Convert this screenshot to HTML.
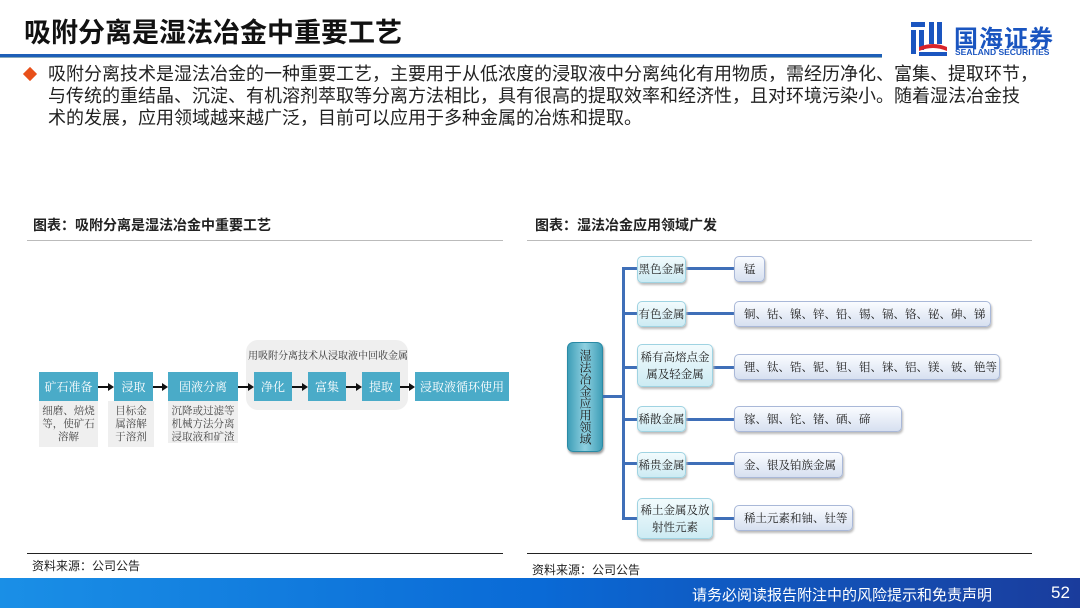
<!DOCTYPE html>
<html><head><meta charset="utf-8"><style>
*{margin:0;padding:0;box-sizing:border-box}
body{width:1080px;height:608px;position:relative;background:#fff;font-family:"Liberation Sans","Noto Sans CJK SC",sans-serif;overflow:hidden;color:#222}
.a{position:absolute}
.t{font-size:27px;font-weight:bold;left:24px;top:11px;color:#111;white-space:nowrap}
.p{left:48px;top:63px;width:1020px;font-size:18px;line-height:22px;color:#222;white-space:nowrap}
.fb{background:#4aabc8;color:#fff;font-family:"Noto Serif CJK SC",serif;font-size:12px;display:flex;align-items:center;justify-content:center;height:29px;top:372px}
.sb{background:#efefef;color:#444;font-family:"Noto Serif CJK SC",serif;font-size:10.5px;line-height:13px;text-align:center;padding-top:3px}
.ar{height:2px;background:#111}
.ar:after{content:"";position:absolute;right:-2px;top:-3px;border-left:6px solid #111;border-top:4px solid transparent;border-bottom:4px solid transparent}
.cat{background:linear-gradient(#f2fbfd,#cdebf3);border:1px solid #9fd3e2;border-radius:5px;font-family:"Noto Serif CJK SC",serif;font-size:11.5px;display:flex;align-items:center;justify-content:center;text-align:center;line-height:17px;box-shadow:1px 2px 2px #bbb;color:#222}
.it{background:linear-gradient(#fafcff,#d7e0f0);border:1px solid #a9b8d8;border-radius:5px;font-family:"Noto Serif CJK SC",serif;font-size:11.5px;display:flex;align-items:center;padding-left:9px;height:26px;box-shadow:1px 2px 2px #bbb;color:#222;white-space:nowrap}
.h{background:#3f6fb8;height:3px}
.v{background:#3f6fb8;width:3px}
</style></head><body>
<div class="a t">吸附分离是湿法冶金中重要工艺</div>
<div class="a" style="left:0;top:54px;width:882px;height:3px;background:#1d5fb8"></div>
<div class="a" style="left:0;top:57px;width:882px;height:1px;background:#8ab"></div>
<svg class="a" style="left:909px;top:20px" width="40" height="38" viewBox="0 0 40 38">
<rect x="2" y="2" width="14" height="5" fill="#1a55c0"/><rect x="2" y="10" width="5" height="24" fill="#1a55c0"/><rect x="10" y="10" width="5" height="20" fill="#1a55c0"/>
<rect x="20" y="2" width="5" height="22" fill="#1a55c0"/><rect x="28" y="2" width="5" height="22" fill="#1a55c0"/>
<path d="M10 27 Q24 21 38 27 L38 31 Q24 25 10 31Z" fill="#d8232a"/><rect x="10" y="32" width="28" height="4" fill="#1a55c0"/></svg>
<div class="a" style="left:954px;top:19px;font-size:24px;font-weight:bold;color:#1a55c0;letter-spacing:1px">国海证券</div>
<div class="a" style="left:955px;top:47px;font-size:8.5px;font-weight:bold;color:#1a55c0">SEALAND SECURITIES</div>
<div class="a" style="left:25px;top:69px;width:10px;height:10px;background:#e8501a;transform:rotate(45deg)"></div>
<div class="a p">吸附分离技术是湿法冶金的一种重要工艺，主要用于从低浓度的浸取液中分离纯化有用物质，需经历净化、富集、提取环节，<br>与传统的重结晶、沉淀、有机溶剂萃取等分离方法相比，具有很高的提取效率和经济性，且对环境污染小。随着湿法冶金技<br>术的发展，应用领域越来越广泛，目前可以应用于多种金属的冶炼和提取。</div>

<div class="a" style="left:33px;top:215px;font-size:14px;font-weight:bold;color:#222">图表：吸附分离是湿法冶金中重要工艺</div>
<div class="a" style="left:27px;top:240px;width:476px;height:1px;background:#bbb"></div>
<div class="a" style="left:535px;top:215px;font-size:14px;font-weight:bold;color:#222">图表：湿法冶金应用领域广发</div>
<div class="a" style="left:527px;top:240px;width:505px;height:1px;background:#bbb"></div>

<div class="a" style="left:246px;top:340px;width:162px;height:70px;background:#efefef;border-radius:12px"></div>
<div class="a" style="left:248px;top:347px;width:160px;text-align:center;font-family:'Noto Serif CJK SC',serif;font-size:10px;color:#333">用吸附分离技术从浸取液中回收金属</div>
<div class="a fb" style="left:39px;width:59px">矿石准备</div>
<div class="a fb" style="left:114px;width:39px">浸取</div>
<div class="a fb" style="left:168px;width:70px">固液分离</div>
<div class="a fb" style="left:254px;width:38px">净化</div>
<div class="a fb" style="left:308px;width:38px">富集</div>
<div class="a fb" style="left:362px;width:38px">提取</div>
<div class="a fb" style="left:415px;width:94px">浸取液循环使用</div>
<div class="a ar" style="left:98px;top:386px;width:14px"></div>
<div class="a ar" style="left:153px;top:386px;width:13px"></div>
<div class="a ar" style="left:238px;top:386px;width:14px"></div>
<div class="a ar" style="left:292px;top:386px;width:14px"></div>
<div class="a ar" style="left:346px;top:386px;width:14px"></div>
<div class="a ar" style="left:400px;top:386px;width:13px"></div>
<div class="a sb" style="left:39px;top:401px;width:59px;height:46px">细磨、焙烧<br>等，使矿石<br>溶解</div>
<div class="a sb" style="left:108px;top:401px;width:46px;height:46px">目标金<br>属溶解<br>于溶剂</div>
<div class="a sb" style="left:168px;top:401px;width:70px;height:42px">沉降或过滤等<br>机械方法分离<br>浸取液和矿渣</div>

<div class="a" style="left:567px;top:342px;width:36px;height:110px;background:linear-gradient(90deg,#3f9fb8,#8fd0e0 50%,#3f9fb8);border:1px solid #2a8aa5;border-radius:6px;box-shadow:1px 2px 2px #999;font-family:'Noto Serif CJK SC',serif;font-size:12px;line-height:12px;writing-mode:vertical-rl;display:flex;align-items:center;justify-content:center;color:#222">湿法冶金应用领域</div>
<div class="a h" style="left:603px;top:395px;width:21px"></div>
<div class="a v" style="left:622px;top:267px;height:253px"></div>
<div class="a h" style="left:622px;top:267px;width:112px"></div>
<div class="a h" style="left:622px;top:312px;width:112px"></div>
<div class="a h" style="left:622px;top:366px;width:112px"></div>
<div class="a h" style="left:622px;top:418px;width:112px"></div>
<div class="a h" style="left:622px;top:462px;width:112px"></div>
<div class="a h" style="left:622px;top:517px;width:112px"></div>
<div class="a cat" style="left:637px;top:256px;width:49px;height:27px">黑色金属</div>
<div class="a cat" style="left:637px;top:301px;width:49px;height:26px">有色金属</div>
<div class="a cat" style="left:637px;top:344px;width:76px;height:43px">稀有高熔点金<br>属及轻金属</div>
<div class="a cat" style="left:637px;top:406px;width:49px;height:26px">稀散金属</div>
<div class="a cat" style="left:637px;top:452px;width:49px;height:26px">稀贵金属</div>
<div class="a cat" style="left:637px;top:498px;width:76px;height:41px">稀土金属及放<br>射性元素</div>
<div class="a it" style="left:734px;top:256px;width:31px">锰</div>
<div class="a it" style="left:734px;top:301px;width:257px">铜、钴、镍、锌、铅、锡、镉、铬、铋、砷、锑</div>
<div class="a it" style="left:734px;top:354px;width:266px">锂、钛、锆、铌、钽、钼、铼、铝、镁、铍、铯等</div>
<div class="a it" style="left:734px;top:406px;width:168px">镓、铟、铊、锗、硒、碲</div>
<div class="a it" style="left:734px;top:452px;width:109px">金、银及铂族金属</div>
<div class="a it" style="left:734px;top:505px;width:119px">稀土元素和铀、钍等</div>

<div class="a" style="left:27px;top:553px;width:476px;height:1px;background:#222"></div>
<div class="a" style="left:527px;top:553px;width:505px;height:1px;background:#222"></div>
<div class="a" style="left:32px;top:557px;font-size:12px">资料来源：公司公告</div>
<div class="a" style="left:532px;top:561px;font-size:12px">资料来源：公司公告</div>
<div class="a" style="left:0;top:578px;width:1080px;height:30px;background:linear-gradient(90deg,#1a8fe6,#0a6ad6 50%,#1a3c9c)"></div>
<div class="a" style="left:692px;top:584px;font-size:15px;color:#fff">请务必阅读报告附注中的风险提示和免责声明</div>
<div class="a" style="left:1051px;top:583px;font-size:17px;color:#fff">52</div>
</body></html>
